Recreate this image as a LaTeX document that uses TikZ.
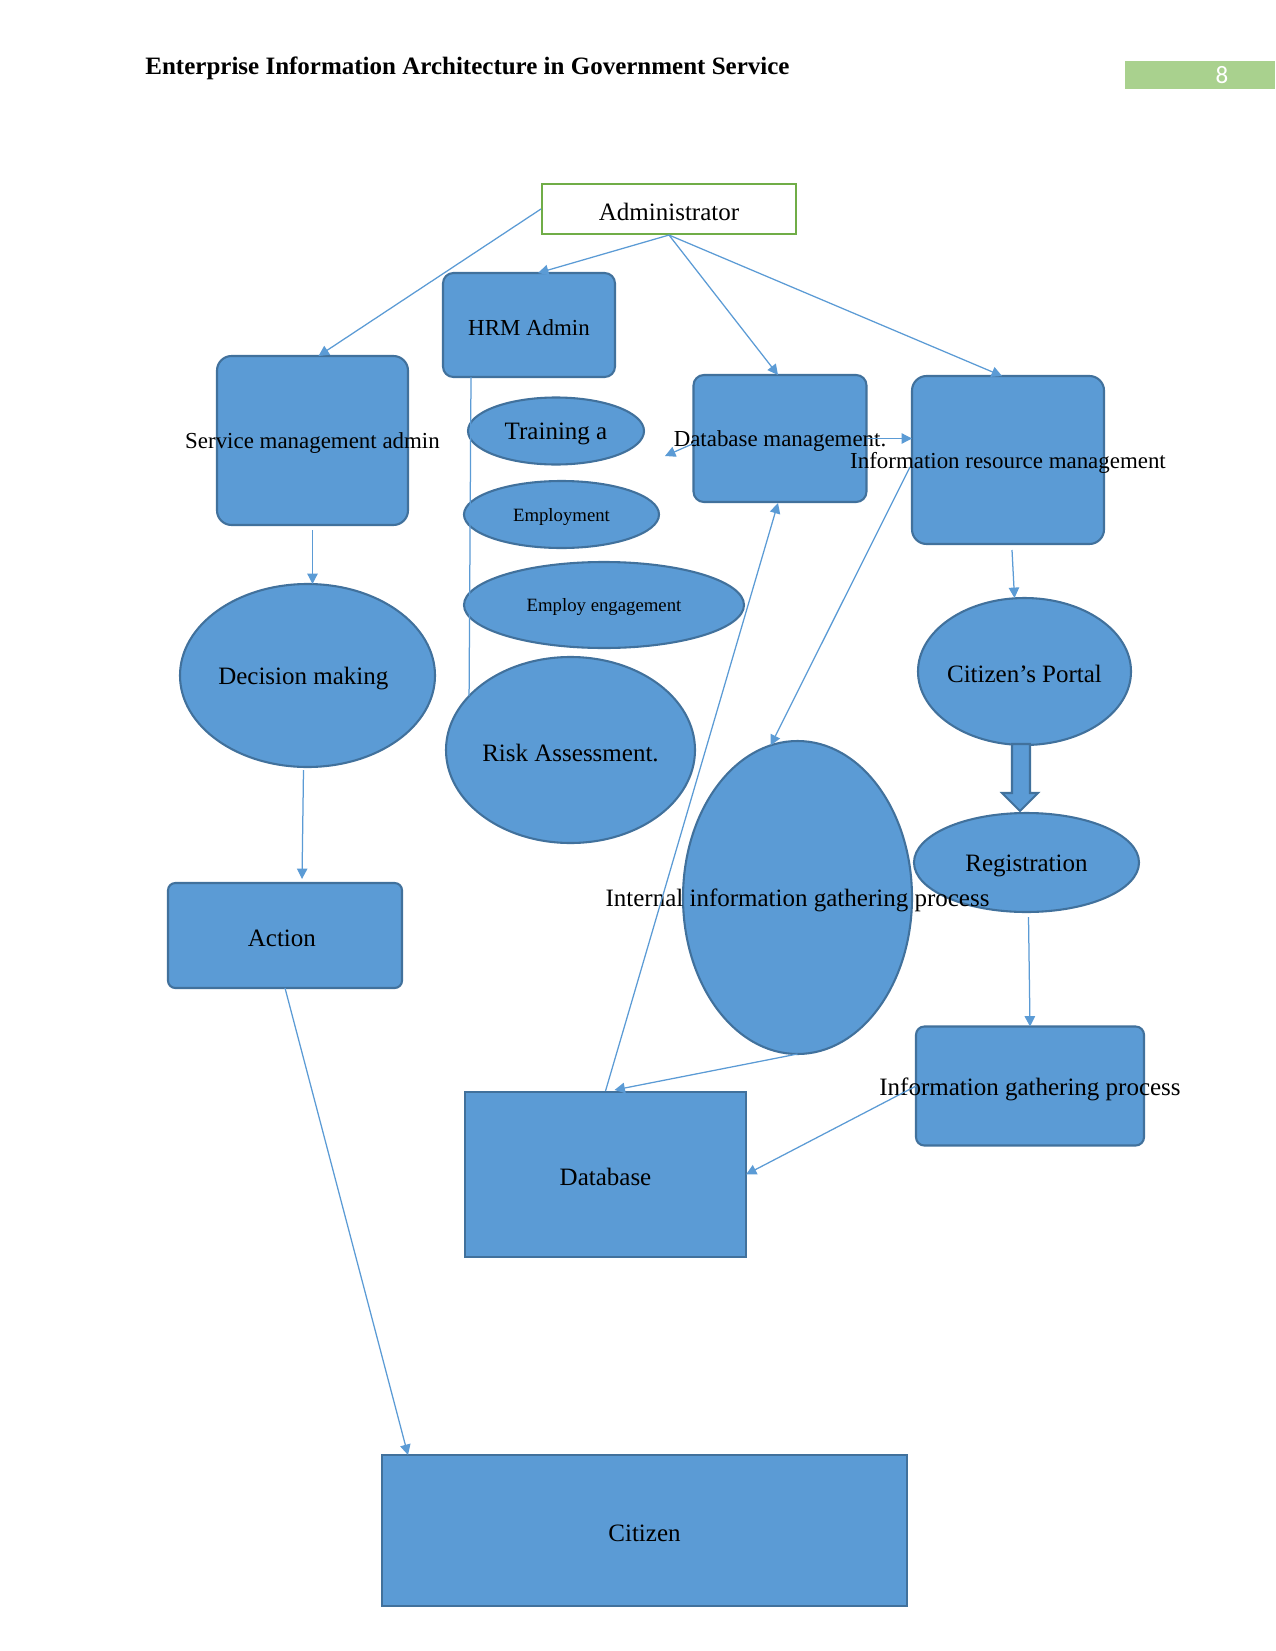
\documentclass[tikz,border=0pt]{standalone}
\usepackage{fontspec}
\setmainfont{Liberation Serif}
\newfontfamily\numfont{Carlito}
\usetikzlibrary{arrows.meta,calc,shapes.geometric}
\definecolor{fillc}{HTML}{5B9BD5}
\definecolor{bordc}{HTML}{41719C}
\definecolor{linec}{HTML}{5B9BD5}
\definecolor{admc}{HTML}{70AD47}
\definecolor{pgc}{HTML}{A9D18E}
\begin{document}
\begin{tikzpicture}[x=0.48pt,y=-0.48pt,
  shp/.style={draw=bordc, fill=fillc, line width=1pt, inner sep=0pt, outer sep=0pt},
  rbox/.style={shp, rectangle, rounded corners=#1},
  rbox/.default=5pt,
  sbox/.style={shp, rectangle},
  ell/.style={shp, ellipse},
  sz/.style 2 args={minimum width=#1*0.48pt, minimum height=#2*0.48pt},
  lbl/.style={font=\fontsize{12}{14}\selectfont, inner sep=0pt, yshift=-1.4pt},
  lbls/.style={font=\fontsize{11}{13}\selectfont, inner sep=0pt, yshift=-1.3pt},
  lblt/.style={font=\fontsize{9}{11}\selectfont, inner sep=0pt, yshift=-1pt},
  conn/.style={draw=linec, line width=0.6pt, -{Triangle[length=5pt,width=5pt]}},
  plainline/.style={draw=linec, line width=0.6pt}
]
\fill[white] (0,0) rectangle (1275,1651);
\useasboundingbox (0,0) rectangle (1275,1651);

% header
\node[anchor=base west, inner sep=0pt, font=\fontsize{12}{14}\selectfont\bfseries] (title) at (145,75) {Enterprise Information Architecture in Government Service};
\node[fill=pgc, minimum width=150*0.48pt, minimum height=28*0.48pt, inner sep=0pt] (pgbox) at (1200,75) {};
\node[text=white, inner sep=0pt, font=\numfont\fontsize{12}{14}\selectfont] (pgnum) at (1222,75) {8};

% shapes
\node[draw=admc, fill=white, line width=1pt, inner sep=0pt, sz={254}{50}, label={[lbl]center:Administrator}] (admin) at (669,209) {};
\node[rbox=5pt, sz={172}{104}, label={[lbls]center:HRM Admin}] (hrm) at (529,325) {};
\node[rbox=7pt, sz={191}{169}, label={[lbls]center:Service management admin}] (sma) at (312.5,440.5) {};
\node[rbox=5pt, sz={173}{127}, label={[lbls]center:Database management.}] (dbm) at (780,438.5) {};
\node[rbox=7pt, sz={192}{168}, label={[lbls]center:Information resource management}] (irm) at (1008,460) {};
\node[ell, sz={176}{67}, label={[lbl]center:Training a}] (train) at (556,431) {};
\node[ell, sz={195}{67}, label={[lblt]center:Employment}] (employ) at (561.5,514.5) {};
\node[ell, sz={280}{86}, label={[lblt]center:Employ engagement}] (engage) at (604,605) {};
\node[ell, sz={255}{183}, label={[lbl,xshift=-2pt]center:Decision making}] (decision) at (307.5,675.5) {};
\node[ell, sz={249}{186}, label={[lbl]center:Risk Assessment.}] (risk) at (570.5,750) {};
\node[ell, sz={213}{147}, label={[lbl]center:Citizen’s Portal}] (portal) at (1024.5,671.5) {};
\node[ell, sz={225}{99}, label={[lbl]center:Registration}] (reg) at (1026.5,862.5) {};
\node[ell, sz={229}{313}, label={[lbl]center:Internal information gathering process}] (internal) at (797.5,897.5) {};
\node[rbox=3.5pt, sz={234}{105}, label={[lbl,xshift=-1.5pt]center:Action}] (action) at (285,935.5) {};
\node[rbox=4pt, sz={228}{119}, label={[lbl]center:Information gathering process}] (igp) at (1030,1086) {};
\node[sbox, sz={281}{165}, label={[lbl]center:Database}] (database) at (605.5,1174.5) {};
\node[sbox, sz={525}{151}, label={[lbl]center:Citizen}] (citizen) at (644.5,1530.5) {};

% connectors
\draw[conn] (admin.west) -- ($(sma.north)+(6,0)$);
\draw[conn] (admin.south) -- ($(hrm.north)+(9,0)$);
\draw[conn] (admin.south) -- ($(dbm.north)+(-2,0)$);
\draw[conn] (admin.south) -- ($(irm.north)+(-6,0)$);
\draw[plainline] ($(hrm.south west)+(28,0)$) -- (risk.152);
\draw[conn] ($(sma.south)+(0,5)$) -- (sma.south |- decision.north);
\draw[conn] ($(decision.south)+(-4,3)$) -- ($(action.north)+(17,-4)$);
\draw[conn] (action.south) -- ($(citizen.north west)+(26,0)$);
\coordinate (c1) at (665,456);
\draw[conn] ($(dbm.west)+(0,5)$) -- (c1);
\draw[conn] (dbm.east) -- (irm.west |- dbm.east);
\draw[conn] ($(irm.south)+(4,6)$) -- ($(portal.north)+(-10,0)$);
\draw[conn] ($(irm.west)+(-2,7)$) -- (internal.100);
\draw[conn] ($(database.north)+(0,-1)$) -- ($(dbm.south)+(-2,1)$);
\draw[conn] (internal.south) -- ($(database.north)+(9,-2)$);
\draw[conn] (igp.west) -- (database.east);
\draw[conn] ($(reg.south)+(2,5)$) -- (igp.north);
% block arrow
\draw[shp] ($(portal.south)+(-12.5,-1)$) -- ++(0,49) -- ++(-10,0) -- ++(18,18) -- ++(18,-18) -- ++(-8,0) -- ++(0,-49) -- cycle;
\end{tikzpicture}
\end{document}
